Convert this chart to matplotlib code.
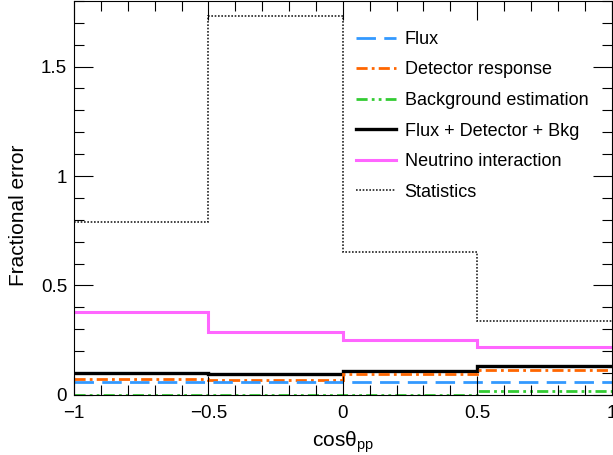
import numpy as np
import matplotlib
matplotlib.use("Agg")
import matplotlib.pyplot as plt
from matplotlib.ticker import MultipleLocator, FuncFormatter

plt.rcParams['font.family'] = ['Liberation Sans', 'DejaVu Sans']

# bin edges in cos(theta_pp)
edges = [-1.0, -0.5, 0.0, 0.5, 1.0]

# fractional errors per bin
flux = [0.059, 0.058, 0.059, 0.060]
detector = [0.074, 0.069, 0.096, 0.115]
background = [0.002, 0.002, 0.002, 0.018]
flux_det_bkg = [0.099, 0.095, 0.109, 0.132]
nu_interaction = [0.381, 0.289, 0.250, 0.221]
statistics = [0.792, 1.733, 0.654, 0.337]

fig = plt.figure(figsize=(6.13, 4.55), dpi=100)
ax = fig.add_axes([0.1207, 0.132, 0.877, 0.866])

ax.stairs(statistics, edges, baseline=None, color="#222222", lw=1.2,
          linestyle=(0, (1, 1)), label="Statistics")
ax.stairs(nu_interaction, edges, baseline=None, color="#ff66ff", lw=2.2,
          label="Neutrino interaction")
ax.stairs(flux_det_bkg, edges, baseline=None, color="black", lw=2.4,
          label="Flux + Detector + Bkg")
ax.stairs(background, edges, baseline=None, color="#33cc33", lw=2.0,
          linestyle=(0, (4, 1.5, 1, 1.5, 1, 1.5)), label="Background estimation")
ax.stairs(detector, edges, baseline=None, color="#ff6600", lw=2.0,
          linestyle=(0, (4, 1.5, 1, 1.5)), label="Detector response")
ax.stairs(flux, edges, baseline=None, color="#3399ff", lw=2.0,
          linestyle=(0, (7, 3)), label="Flux")

ax.set_xlim(-1, 1)
ax.set_ylim(0, 1.8)

ax.xaxis.set_major_locator(MultipleLocator(0.5))
ax.xaxis.set_minor_locator(MultipleLocator(0.1))
ax.yaxis.set_major_locator(MultipleLocator(0.5))
ax.yaxis.set_minor_locator(MultipleLocator(0.1))
fmt = FuncFormatter(lambda v, p: "%g" % v if abs(v) > 1e-9 else "0")
ax.xaxis.set_major_formatter(FuncFormatter(lambda v, p: ("%g" % v).replace("-", "\u2212") if abs(v) > 1e-9 else "0"))
ax.yaxis.set_major_formatter(fmt)
ax.tick_params(which="both", direction="in", top=True, right=True, labelsize=13.5, width=0.8)
ax.tick_params(which="major", length=14)
ax.tick_params(which="minor", length=7)
ax.tick_params(axis="x", pad=7)
ax.tick_params(axis="y", pad=5)

ax.set_xlabel(r"cos$\mathregular{\theta_{pp}}$", fontsize=15, labelpad=6)
ax.set_ylabel("Fractional error", fontsize=15)
ax.yaxis.set_label_coords(-0.086, 0.455)

handles, labels = ax.get_legend_handles_labels()
order = ["Flux", "Detector response", "Background estimation",
         "Flux + Detector + Bkg", "Neutrino interaction", "Statistics"]
hmap = dict(zip(labels, handles))
ax.legend([hmap[k] for k in order], order, loc="upper left",
          bbox_to_anchor=(0.494, 0.965), frameon=False, fontsize=13,
          handlelength=2.2, labelspacing=0.75, handletextpad=0.5)

fig.savefig("out.png", dpi=100)
